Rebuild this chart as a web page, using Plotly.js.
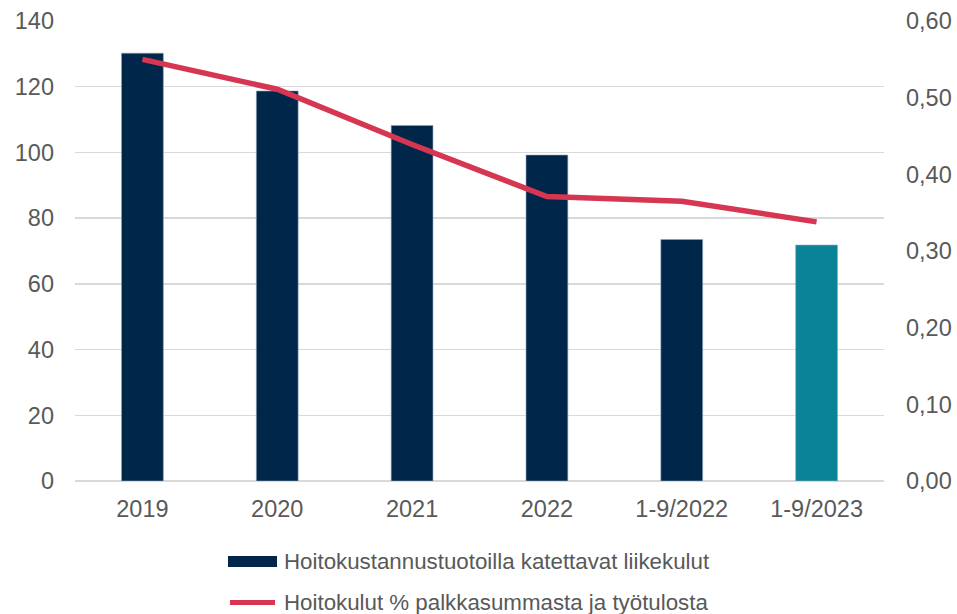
<!DOCTYPE html>
<html>
<head>
<meta charset="utf-8">
<script src="https://cdn.plot.ly/plotly-3.0.1.min.js"></script>
<style>html,body{margin:0;padding:0;background:#fff;}#chart{width:957px;height:614px;}</style>
</head>
<body>
<div id="chart"></div>
<script>
const categories = ['2019', '2020', '2021', '2022', '1-9/2022', '1-9/2023'];
const liikekulut = [130.2, 118.7, 108.2, 99.2, 73.5, 71.8];
const hoitokulutPct = [0.550, 0.511, 0.439, 0.371, 0.365, 0.338];
const barColors = ['#00264A', '#00264A', '#00264A', '#00264A', '#00264A', '#0A8398'];
const seriesNames = ['Hoitokustannustuotoilla katettavat liikekulut', 'Hoitokulut % palkkasummasta ja työtulosta'];

const W = 957, H = 614;
const M = {l: 75, r: 73, t: 21, b: 133};
const pw = W - M.l - M.r, ph = H - M.t - M.b;
const px2x = x => (x - M.l) / pw;
const px2y = y => (H - M.b - y) / ph;

const textColor = '#595959';
const font = 'Liberation Sans, Arial, sans-serif';

const traces = [
  {
    type: 'bar', x: categories, y: liikekulut, name: seriesNames[0],
    marker: {color: barColors, line: {color: '#8FA1B5', width: 0.6}},
    width: 0.31, yaxis: 'y', showlegend: false, hoverinfo: 'x+y'
  },
  {
    type: 'scatter', mode: 'lines', x: categories, y: hoitokulutPct, name: seriesNames[1],
    line: {color: '#D73652', width: 5.5}, yaxis: 'y2', showlegend: false
  }
];

const layout = {
  width: W, height: H,
  margin: M,
  paper_bgcolor: '#fff', plot_bgcolor: '#fff',
  separators: ', ',
  font: {family: font, size: 23.5, color: textColor},
  showlegend: false,
  xaxis: {
    type: 'category', showgrid: false, zeroline: false, showline: false, ticks: '',
    tickfont: {size: 23.5, color: textColor}, ticklabelstandoff: 11
  },
  yaxis: {
    range: [0, 140], dtick: 20, tick0: 0, showgrid: true, gridcolor: '#D9D9D9', gridwidth: 1.3,
    zeroline: true, zerolinecolor: '#D9D9D9', zerolinewidth: 1.3, showline: false, ticks: '',
    tickfont: {size: 23.5, color: textColor}, ticklabelstandoff: 20
  },
  yaxis2: {
    range: [0, 0.6], dtick: 0.1, tick0: 0, overlaying: 'y', side: 'right', showgrid: false,
    zeroline: false, showline: false, ticks: '', tickformat: '.2f',
    tickfont: {size: 23.5, color: textColor}, ticklabelstandoff: 21
  },
  shapes: [
    {type: 'rect', xref: 'paper', yref: 'paper', x0: px2x(228), x1: px2x(277), y0: px2y(556), y1: px2y(567),
     fillcolor: '#00264A', line: {width: 0}},
    {type: 'line', xref: 'paper', yref: 'paper', x0: px2x(230), x1: px2x(275), y0: px2y(602.5), y1: px2y(602.5),
     line: {color: '#D73652', width: 5}}
  ],
  annotations: [
    {xref: 'paper', yref: 'paper', x: px2x(282), y: px2y(561), xanchor: 'left', yanchor: 'middle',
     text: seriesNames[0], showarrow: false, font: {size: 22.3, color: textColor, family: font}},
    {xref: 'paper', yref: 'paper', x: px2x(282), y: px2y(602), xanchor: 'left', yanchor: 'middle',
     text: seriesNames[1], showarrow: false, font: {size: 22.3, color: textColor, family: font}}
  ]
};

Plotly.newPlot('chart', traces, layout, {displayModeBar: false, staticPlot: true});
</script>
</body>
</html>
